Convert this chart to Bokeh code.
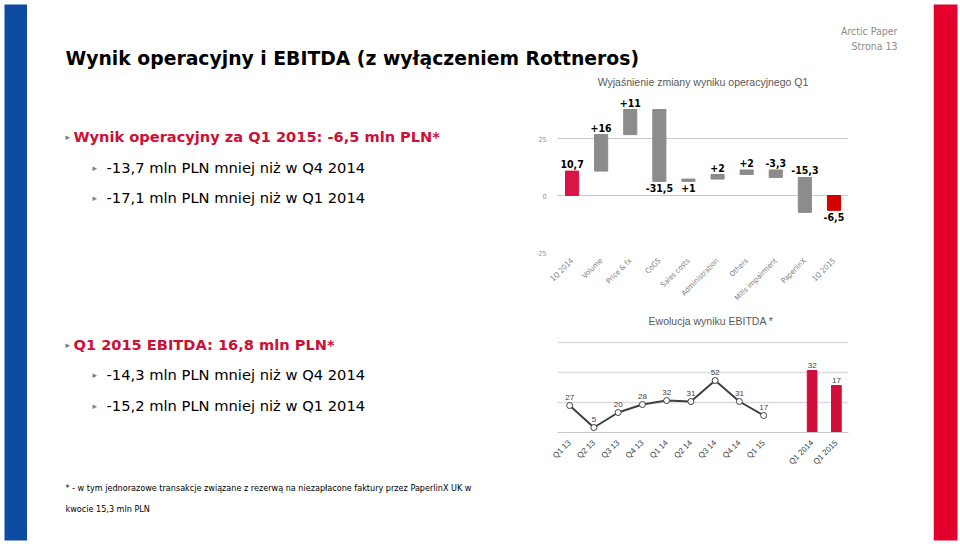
import math
from bokeh.plotting import figure
from bokeh.models import ColumnDataSource, FixedTicker, Label, Range1d, FactorRange
from bokeh.layouts import row, column
from bokeh.embed import file_html
from bokeh.resources import INLINE
from bokeh.core.properties import value

# ---------------- data ----------------
wf_categories = ["1Q 2014", "Volume", "Price & fx", "CoGS", "Sales costs",
                 "Administration", "Others", "Mills impairment", "PaperlinX", "1Q 2015"]
wf_start = 10.7
wf_deltas = [16, 11, -31.5, 1, 2, 2, -3.3, -15.3]
wf_end = -6.5
wf_label_side = ["above", "above", "above", "below", "below",
                 "above", "above", "above", "above", "below"]
wf_ticks = [-25, 0, 25]

eb_quarters = ["Q1 13", "Q2 13", "Q3 13", "Q4 13", "Q1 14", "Q2 14", "Q3 14", "Q4 14", "Q1 15"]
eb_values = [27, 5, 20, 28, 32, 31, 52, 31, 17]
eb_bar_cats = ["Q1 2014", "Q1 2015"]
eb_bar_values = [32, 17]
eb_grid = [30, 60, 90]

BLUE = "#0c4da2"
RED = "#e4002b"
CRIMSON = "#cc1036"
SANS = "DejaVu Sans"
ARIAL = "Liberation Sans"
NARROW = "Liberation Sans Narrow, DejaVu Sans Condensed, sans-serif"


def canvas(w, h, bg="white"):
    p = figure(width=w, height=h, x_range=Range1d(0, w), y_range=Range1d(h, 0),
               x_axis_location=None, y_axis_location=None, toolbar_location=None,
               output_backend="svg", min_border=0, min_border_left=0, min_border_right=0,
               min_border_top=0, min_border_bottom=0,
               background_fill_color=bg, border_fill_color=bg, outline_line_color=None)
    p.grid.visible = False
    return p


def txt(p, x, y, s, size, color, font=SANS, bold=False, align="left", baseline="middle"):
    p.text(x=[x], y=[y], text=[s], text_font=value(font), text_font_size=f"{size}px",
           text_color=color, text_font_style="bold" if bold else "normal",
           text_align=align, text_baseline=baseline)


# ---------------- side bars ----------------
blue = canvas(27, 544)
blue.quad(left=4, right=27, top=4, bottom=540, fill_color=BLUE, line_color=None)
red = canvas(27, 544)
red.quad(left=0, right=24, top=4, bottom=540, fill_color=RED, line_color=None)

# ---------------- header (page y 0..70) ----------------
header = canvas(906, 70)
txt(header, 38, 58, "Wynik operacyjny i EBITDA (z wyłączeniem Rottneros)", 18.8, "#000000", SANS, bold=True)
txt(header, 870, 30, "Arctic Paper", 10.5, "#8c8c8c", NARROW, align="right")
txt(header, 870, 45, "Strona 13", 10.5, "#8c8c8c", NARROW, align="right")

# ---------------- left text (page y 70..474) ----------------
left = canvas(473, 404)
txt(left, 38, 66, "▸", 9, "#808080")
txt(left, 46, 66, "Wynik operacyjny za Q1 2015: -6,5 mln PLN*", 14.6, CRIMSON, SANS, bold=True)
txt(left, 65, 97, "▸", 9, "#808080")
txt(left, 79, 97, "-13,7 mln PLN mniej niż w Q4 2014", 14.7, "#000000")
txt(left, 65, 127, "▸", 9, "#808080")
txt(left, 79, 127, "-17,1 mln PLN mniej niż w Q1 2014", 14.7, "#000000")
txt(left, 38, 274, "▸", 9, "#808080")
txt(left, 46, 274, "Q1 2015 EBITDA: 16,8 mln PLN*", 14.6, CRIMSON, SANS, bold=True)
txt(left, 65, 304, "▸", 9, "#808080")
txt(left, 79, 304, "-14,3 mln PLN mniej niż w Q4 2014", 14.7, "#000000")
txt(left, 65, 335, "▸", 9, "#808080")
txt(left, 79, 335, "-15,2 mln PLN mniej niż w Q1 2014", 14.7, "#000000")

# ---------------- footer (page y 474..544) ----------------
footer = canvas(906, 70)
txt(footer, 38, 13, "* - w tym jednorazowe transakcje związane z rezerwą na niezapłacone faktury przez PaperlinX UK w", 8.1, "#000000")
txt(footer, 38, 34, "kwocie 15,3 mln PLN", 8.1, "#000000")

# ---------------- waterfall (page y 70..310) ----------------
def fmt(v, sign):
    s = f"{v:g}".replace(".", ",")
    if sign and v > 0:
        s = "+" + s
    return s

bottoms, tops, labels, colors = [0], [wf_start], [fmt(wf_start, False)], ["#dc1446"]
level = wf_start
for d in wf_deltas:
    bottoms.append(level)
    tops.append(level + d)
    labels.append(fmt(d, True))
    colors.append("#8c8c8c")
    level += d
bottoms.append(0)
tops.append(wf_end)
labels.append(fmt(wf_end, False))
colors.append("#d40000")

wf_src = ColumnDataSource(dict(x=wf_categories, bottom=bottoms, top=tops, color=colors))
ab = dict(x=[], y=[], t=[])
be = dict(x=[], y=[], t=[])
for c, b, t, l, side in zip(wf_categories, bottoms, tops, labels, wf_label_side):
    if side == "above":
        ab["x"].append(c); ab["y"].append(max(b, t)); ab["t"].append(l)
    else:
        be["x"].append(c); be["y"].append(min(b, t)); be["t"].append(l)

wf = figure(width=433, height=240, x_range=FactorRange(*wf_categories),
            y_range=Range1d(-25, -25 + 182 / 2.28), toolbar_location=None, output_backend="svg",
            min_border_left=57, min_border_right=85, min_border_top=0, min_border_bottom=58,
            outline_line_color=None)
wf.vbar(x="x", bottom="bottom", top="top", width=0.45, color="color", source=wf_src)
wf.text(x="x", y="y", text="t", source=ColumnDataSource(ab), y_offset=-3,
        text_align="center", text_baseline="bottom", text_font=value(NARROW),
        text_font_style="bold", text_font_size="10.5px", text_color="#000000")
wf.text(x="x", y="y", text="t", source=ColumnDataSource(be), y_offset=3,
        text_align="center", text_baseline="top", text_font=value(NARROW),
        text_font_style="bold", text_font_size="10.5px", text_color="#000000")
wf.xgrid.visible = False
wf.ygrid.grid_line_color = "#c8c8c8"
wf.yaxis.ticker = FixedTicker(ticks=wf_ticks)
wf.yaxis.major_label_overrides = {t: str(t) for t in wf_ticks}
wf.yaxis.axis_line_color = None
wf.yaxis.major_tick_line_color = None
wf.yaxis.minor_tick_line_color = None
wf.yaxis.major_label_text_font_size = "7px"
wf.yaxis.major_label_text_color = "#909090"
wf.yaxis.major_label_text_font = NARROW
wf.xaxis.axis_line_color = None
wf.xaxis.major_tick_line_color = None
wf.xaxis.major_label_orientation = math.pi / 4
wf.xaxis.major_label_text_font_size = "7.5px"
wf.xaxis.major_label_text_color = "#808080"
wf.xaxis.major_label_text_font = NARROW
wf.xaxis.major_label_standoff = 1
wf.add_layout(Label(x=5, y=50, text="Wyjaśnienie zmiany wyniku operacyjnego Q1",
                    text_align="center", text_baseline="middle", text_font=ARIAL,
                    text_font_size="10.5px", text_color="#595959"))
wf.add_layout(Label(x=-1.55, y=4.4, text="milionów PLN", angle=math.pi / 2,
                    text_align="center", text_baseline="middle", text_font=ARIAL,
                    text_font_size="7px", text_color="#b4b4b4"))

# ---------------- EBITDA (page y 310..474) ----------------
factors = eb_quarters + [" "] + eb_bar_cats
eb = figure(width=433, height=164, x_range=FactorRange(*factors), y_range=Range1d(0, 122),
            y_axis_location=None, toolbar_location=None, output_backend="svg",
            min_border_left=57, min_border_right=84, min_border_top=0, min_border_bottom=42,
            outline_line_color=None)
eb.extra_y_ranges = {"bars": Range1d(-30, 92)}
eb.vbar(x=eb_bar_cats, top=eb_bar_values, bottom=-30, width=0.4, color="#d0103a",
        y_range_name="bars")
eb.text(x=eb_bar_cats, y=eb_bar_values, text=[str(v) for v in eb_bar_values], y_range_name="bars",
        y_offset=-3, text_align="center", text_baseline="bottom", text_font=value(ARIAL),
        text_font_size="8px", text_color="#404040")
eb.line(x=eb_quarters, y=eb_values, line_color="#404040", line_width=2)
eb.scatter(x=eb_quarters, y=eb_values, marker="circle", size=6, fill_color="white",
           line_color="#404040", line_width=1)
eb.text(x=eb_quarters, y=eb_values, text=[str(v) for v in eb_values], y_offset=-6,
        text_align="center", text_baseline="bottom", text_font=value(ARIAL),
        text_font_size="8px", text_color="#404040")
eb.xgrid.visible = False
eb.ygrid.ticker = FixedTicker(ticks=eb_grid)
eb.ygrid.grid_line_color = "#dcdcdc"
eb.ygrid.grid_line_width = 1.5
eb.xaxis.axis_line_color = "#c8c8c8"
eb.xaxis.major_tick_line_color = None
eb.xaxis.major_label_orientation = math.pi / 4
eb.xaxis.major_label_text_font_size = "8px"
eb.xaxis.major_label_text_color = "#404040"
eb.xaxis.major_label_text_font = ARIAL
eb.xaxis.major_label_standoff = 3
eb.add_layout(Label(x=6.33, y=112, text="Ewolucja wyniku EBITDA *",
                    text_align="center", text_baseline="middle", text_font=ARIAL,
                    text_font_size="10.5px", text_color="#595959"))
eb.add_layout(Label(x=-1.81, y=61, text="milionów PLN", angle=math.pi / 2,
                    text_align="center", text_baseline="middle", text_font=ARIAL,
                    text_font_size="7px", text_color="#b4b4b4"))

layout = row(blue, column(header, row(left, column(wf, eb)), footer), red)
open("out.html", "w").write(file_html(layout, INLINE))
